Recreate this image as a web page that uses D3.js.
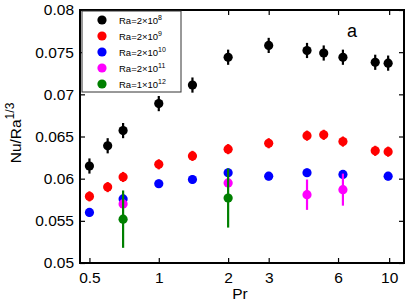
<!DOCTYPE html>
<html><head><meta charset="utf-8">
<script src="https://cdn.jsdelivr.net/npm/d3@7"></script>
<style>body{margin:0;background:#fff}svg{display:block;font-family:"Liberation Sans",Arial,sans-serif}</style>
</head><body><svg id="c" width="407" height="305"></svg>
<script>
const xTicks = [0.5, 1, 2, 3, 6, 10];
const yTicks = [0.05, 0.055, 0.06, 0.065, 0.07, 0.075, 0.08];

const prBlack = [0.5, 0.6, 0.7, 1, 1.4, 2, 3, 4.4, 5.2, 6.3, 8.7, 9.9];
const nuBlack = [0.0615, 0.0639, 0.0657, 0.0689, 0.0711, 0.0744, 0.0758, 0.0752, 0.0749, 0.0744, 0.0738, 0.0737];
const errBlack = [0.0009, 0.0009, 0.0009, 0.0009, 0.0009, 0.0009, 0.0009, 0.0009, 0.0009, 0.0009, 0.0009, 0.0009];

const prRed = [0.5, 0.6, 0.7, 1, 1.4, 2, 3, 4.4, 5.2, 6.3, 8.7, 9.9];
const nuRed = [0.0579, 0.0590, 0.0602, 0.0617, 0.0627, 0.0635, 0.0642, 0.0651, 0.0652, 0.0644, 0.0633, 0.0632];
const errRed = [0.0006, 0.0006, 0.0006, 0.0006, 0.0006, 0.0006, 0.0006, 0.0006, 0.0006, 0.0006, 0.0006, 0.0006];

const prBlue = [0.5, 0.7, 1, 1.4, 2, 3, 4.4, 6.3, 9.9];
const nuBlue = [0.0560, 0.0576, 0.0594, 0.0599, 0.0607, 0.0603, 0.0607, 0.0605, 0.0603];
const errBlue = [0.0005, 0.0005, 0.0005, 0.0005, 0.0005, 0.0005, 0.0005, 0.0005, 0.0005];

const prMagenta = [0.7, 2, 4.4, 6.3];
const nuMagenta = [0.0570, 0.0595, 0.0581, 0.0587];
const errMagenta = [0.0004, 0.0004, 0.0018, 0.0019];

const prGreen = [0.7, 2];
const nuGreen = [0.0552, 0.0577];
const errGreen = [0.0034, 0.0035];

const seriesNames = ["2×10", "2×10", "2×10", "2×10", "1×10"];
const seriesExp = ["8", "9", "10", "11", "12"];
const seriesColors = ["#000000", "#ff0000", "#0000ff", "#ff00ff", "#008000"];

const series = [
  {pr: prBlack, nu: nuBlack, err: errBlack},
  {pr: prRed, nu: nuRed, err: errRed},
  {pr: prBlue, nu: nuBlue, err: errBlue},
  {pr: prMagenta, nu: nuMagenta, err: errMagenta},
  {pr: prGreen, nu: nuGreen, err: errGreen}
];

const L = 80, R = 404, T = 10, B = 263;
const svg = d3.select("#c");
const x = d3.scaleLog().domain([0.455, 11.6]).range([L, R]);
const y = d3.scaleLinear().domain([0.05, 0.08]).range([B, T]);

// points
series.forEach((s, i) => {
  const g = svg.append("g");
  const c = seriesColors[i];
  s.pr.forEach((p, j) => {
    g.append("line").attr("x1", x(p)).attr("x2", x(p))
      .attr("y1", y(s.nu[j] - s.err[j])).attr("y2", y(s.nu[j] + s.err[j]))
      .attr("stroke", c).attr("stroke-width", 2.2);
    g.append("circle").attr("cx", x(p)).attr("cy", y(s.nu[j])).attr("r", 4.6).attr("fill", c);
  });
});

// axes frame
const fmt = d => String(d);
svg.append("g").attr("transform", `translate(${L},0)`)
  .call(d3.axisLeft(y).tickValues(yTicks).tickSize(-5).tickPadding(6).tickFormat(fmt))
  .call(g => { g.select(".domain").remove(); g.selectAll("text").attr("font-size", 15.5).attr("fill","#000").style("font-family","Liberation Sans, Arial, sans-serif"); g.selectAll("line").attr("stroke-width",1.2); });
svg.append("g").attr("transform", `translate(${R},0)`)
  .call(d3.axisRight(y).tickValues(yTicks).tickSize(-5).tickFormat(""))
  .call(g => { g.select(".domain").remove(); g.selectAll("line").attr("stroke-width",1.2); });
svg.append("g").attr("transform", `translate(0,${B})`)
  .call(d3.axisBottom(x).tickValues(xTicks).tickSize(-5).tickPadding(9).tickFormat(fmt))
  .call(g => { g.select(".domain").remove(); g.selectAll("text").attr("font-size", 15.5).attr("fill","#000").style("font-family","Liberation Sans, Arial, sans-serif"); g.selectAll("line").attr("stroke-width",1.2); });
svg.append("g").attr("transform", `translate(0,${T})`)
  .call(d3.axisTop(x).tickValues(xTicks).tickSize(-5).tickFormat(""))
  .call(g => { g.select(".domain").remove(); g.selectAll("line").attr("stroke-width",1.2); });
svg.append("rect").attr("x", L).attr("y", T).attr("width", R - L).attr("height", B - T)
  .attr("fill", "none").attr("stroke", "#000").attr("stroke-width", 2);

// legend
const lg = svg.append("g");
lg.append("rect").attr("x", 82).attr("y", 11).attr("width", 99).attr("height", 81)
  .attr("fill", "#fff").attr("stroke", "#333").attr("stroke-width", 1);
seriesColors.forEach((c, i) => {
  const yy = 20 + i * 16;
  lg.append("circle").attr("cx", 102).attr("cy", yy).attr("r", 4.6).attr("fill", c);
  const t = lg.append("text").attr("x", 119).attr("y", yy + 3.5).attr("font-size", 9.5).attr("fill", "#000");
  t.append("tspan").text("Ra=" + seriesNames[i]);
  t.append("tspan").attr("dy", -4).attr("font-size", 7).text(seriesExp[i]);
});

// labels
svg.append("text").attr("x", 352).attr("y", 37).attr("font-size", 18).attr("text-anchor", "middle").text("a");
svg.append("text").attr("x", 240).attr("y", 299).attr("font-size", 15.5).attr("text-anchor", "middle").text("Pr");
const yl = svg.append("text").attr("transform", "translate(21,133) rotate(-90)").attr("font-size", 15.5).attr("text-anchor", "middle");
yl.append("tspan").text("Nu/Ra");
yl.append("tspan").attr("dy", -7).attr("font-size", 12).text("1/3");
</script></body></html>
